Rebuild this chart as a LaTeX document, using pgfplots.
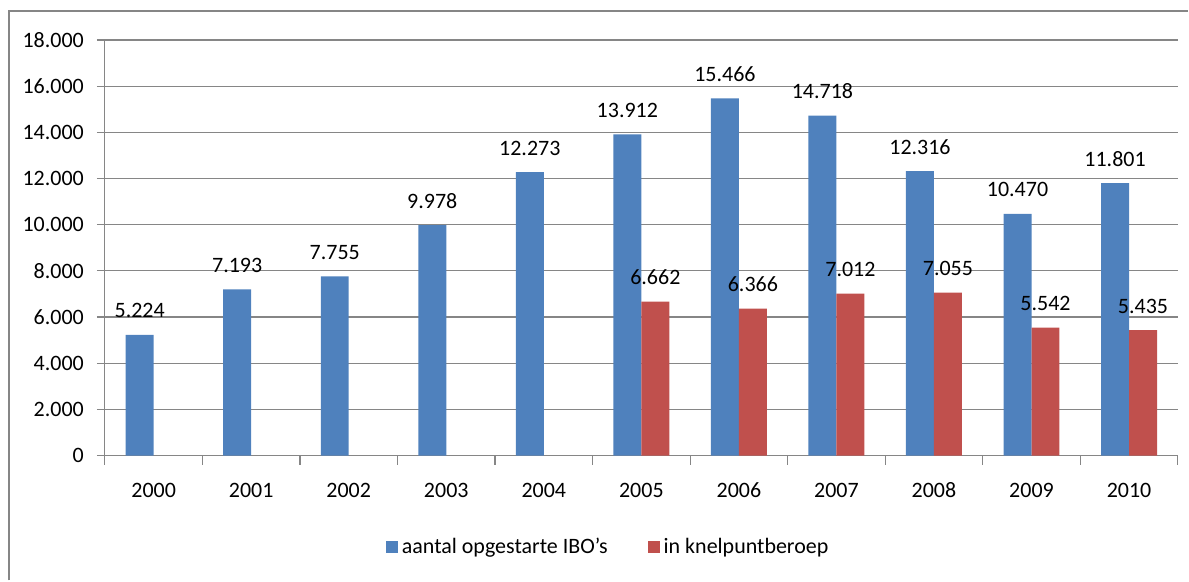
\documentclass[border=0pt]{standalone}
\usepackage{pgfplots}
\pgfplotsset{compat=1.18}
\usepackage{fontspec}
\setmainfont{Carlito}
\usetikzlibrary{calc}

\definecolor{xlblue}{HTML}{4F81BD}
\definecolor{xlred}{HTML}{C0504D}
\definecolor{xlgrid}{HTML}{868686}

\begin{document}
\begin{tikzpicture}
    \begin{axis}[
        width=537pt, height=208pt,
        scale only axis,
        ybar=0pt,
        bar width=14pt,
        xmin=-0.5, xmax=10.5,
        ymin=0, ymax=18000,
        ytick={0,2000,...,18000},
        xtick={0,...,10},
        xticklabels={2000,2001,2002,2003,2004,2005,2006,2007,2008,2009,2010},
        minor xtick={-0.5,0.5,...,10.5},
        axis x line*=bottom,
        axis y line*=left,
        axis line style={draw=xlgrid, line width=0.6pt, -},
        ymajorgrids,
        grid style={draw=xlgrid, line width=0.6pt},
        tick align=outside,
        x tick style={draw=none},
        minor x tick style={draw=xlgrid, line width=0.6pt},
        minor tick length=4.5pt,
        y tick style={draw=xlgrid, line width=0.6pt},
        major tick length=4pt,
        tick label style={font=\fontsize{11}{13}\selectfont, text=black},
        xticklabel style={yshift=-6pt, text height=7.5pt, text depth=0pt},
        yticklabel style={xshift=-3pt},
        /pgf/number format/assume math mode=true,
        /pgf/number format/.cd, fixed, precision=0, 1000 sep={.},
        /pgfplots/.cd,
        scaled y ticks=false,
        nodes near coords,
        every node near coord/.append style={font=\fontsize{11}{13}\selectfont, text=black, yshift=5pt,
            text height=7.5pt, text depth=0pt},
        legend style={at={(0.470,-0.221)}, anchor=center, draw=none, fill=none,
            legend columns=2, font=\fontsize{11}{13}\selectfont,
            /tikz/every even column/.append style={column sep=18pt}},
        legend image code/.code={\fill[#1] (0pt,-3pt) rectangle (6pt,3pt);},
    ]
        \coordinate (O) at (rel axis cs:0,0);
        \addplot[fill=xlblue, draw=none] coordinates {
            (0,5224) (1,7193) (2,7755) (3,9978) (4,12273) (5,13912)
            (6,15466) (7,14718) (8,12316) (9,10470) (10,11801)
        };
        \addlegendentry{aantal opgestarte IBO's}
        \addplot[fill=xlred, draw=none] coordinates {
            (5,6662) (6,6366) (7,7012) (8,7055) (9,5542) (10,5435)
        };
        \addlegendentry{in knelpuntberoep}
    \end{axis}
    % chart frame (left and top edges visible in the crop)
    \draw[xlgrid, line width=1.2pt] ($(O)+(-48pt,-62.5pt)$) -- ($(O)+(-48pt,222.5pt)$) -- ($(O)+(542pt,222.5pt)$);
    \path[use as bounding box] ($(O)+(-52.5pt,-62.5pt)$) rectangle ($(O)+(542pt,228pt)$);
\end{tikzpicture}
\end{document}
